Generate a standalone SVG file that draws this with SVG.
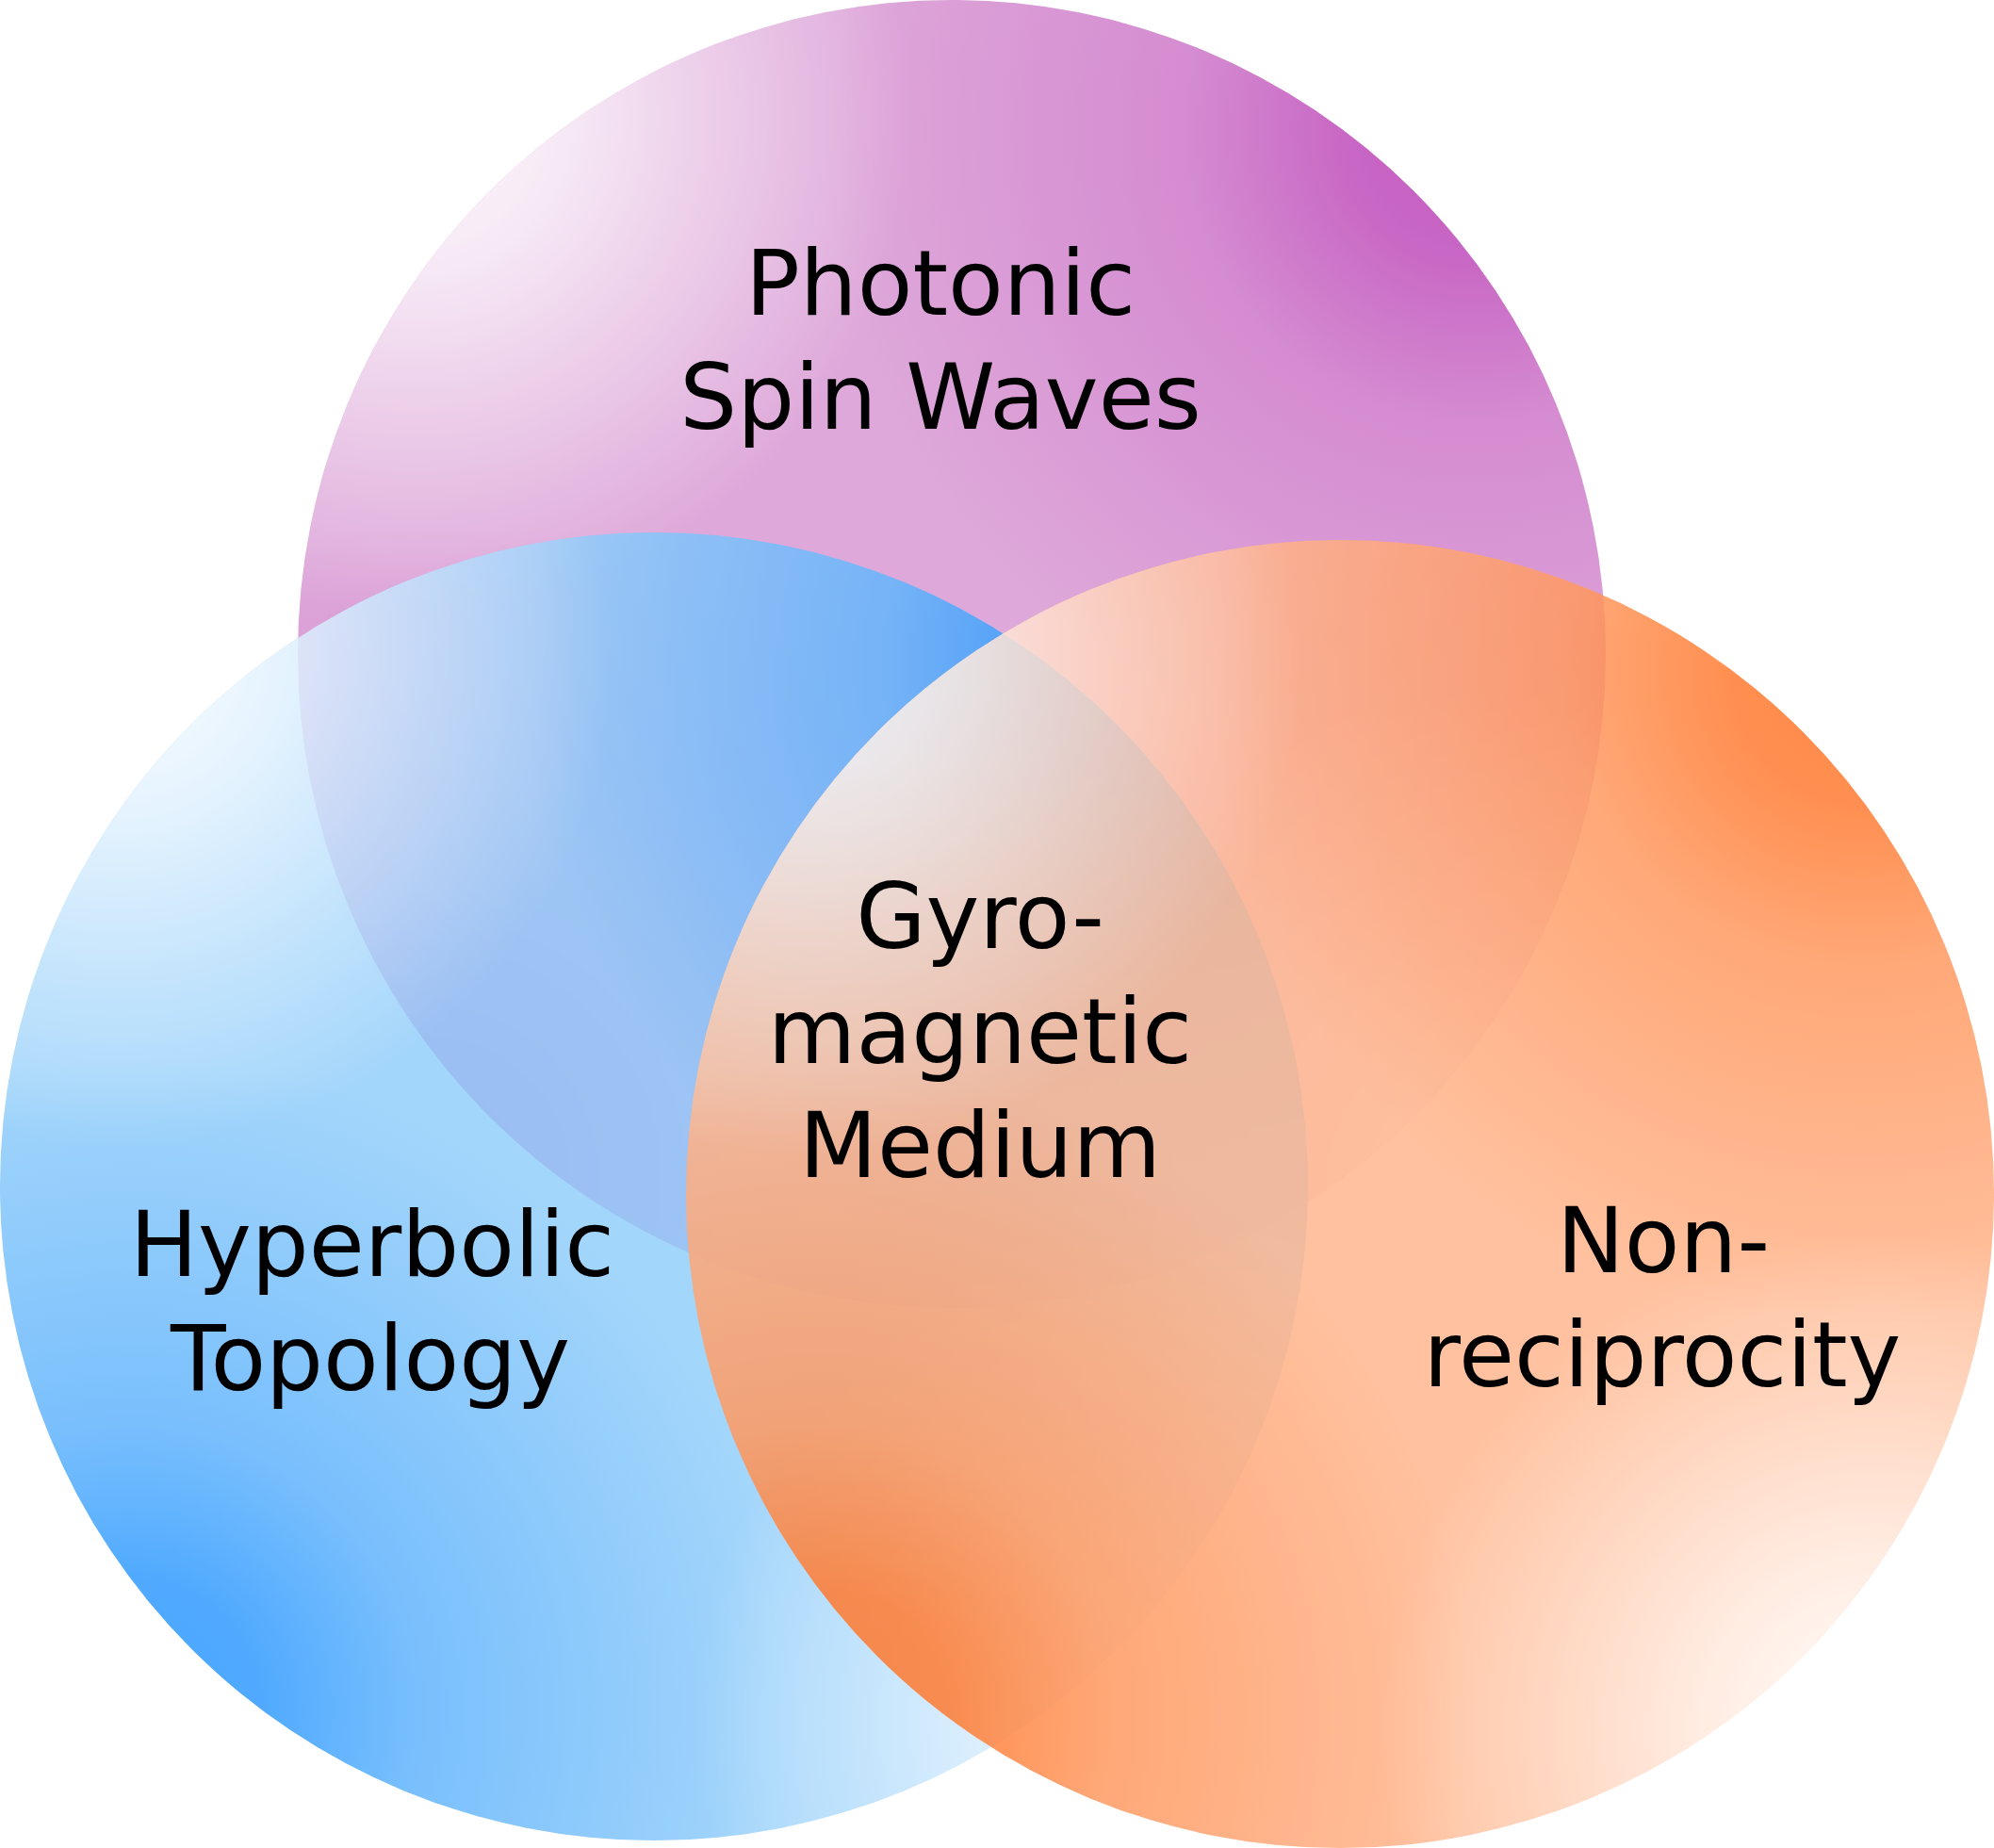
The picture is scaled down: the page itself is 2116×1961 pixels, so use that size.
<svg xmlns="http://www.w3.org/2000/svg" width="2116" height="1961" viewBox="0 0 2116 1961">
  <style>
    .lbl { font-family: "DejaVu Sans", "Liberation Sans", sans-serif; font-size: 96px; fill: #000; text-anchor: middle; }
    .set { opacity: 0.85; }
  </style>
  <defs>
    <radialGradient id="dPurpleTR" cx="0.9" cy="0.1" r="0.5">
      <stop offset="0" stop-color="#b93bb5" stop-opacity="1"/>
      <stop offset="0.2" stop-color="#b93bb5" stop-opacity="0.8"/>
      <stop offset="0.45" stop-color="#b93bb5" stop-opacity="0.35"/>
      <stop offset="1" stop-color="#b93bb5" stop-opacity="0"/>
    </radialGradient>
    <radialGradient id="dPurpleBL" href="#dPurpleTR" cx="0.1" cy="0.9"/>
    <radialGradient id="dBlueTR" cx="0.9" cy="0.1" r="0.5">
      <stop offset="0" stop-color="#2896ff" stop-opacity="1"/>
      <stop offset="0.2" stop-color="#2896ff" stop-opacity="0.9"/>
      <stop offset="0.45" stop-color="#2896ff" stop-opacity="0.45"/>
      <stop offset="1" stop-color="#2896ff" stop-opacity="0"/>
    </radialGradient>
    <radialGradient id="dBlueBL" href="#dBlueTR" cx="0.1" cy="0.9"/>
    <radialGradient id="dOrangeTR" cx="0.9" cy="0.1" r="0.5">
      <stop offset="0" stop-color="#ff7528" stop-opacity="1"/>
      <stop offset="0.2" stop-color="#ff7528" stop-opacity="0.9"/>
      <stop offset="0.45" stop-color="#ff7528" stop-opacity="0.45"/>
      <stop offset="1" stop-color="#ff7528" stop-opacity="0"/>
    </radialGradient>
    <radialGradient id="dOrangeBL" href="#dOrangeTR" cx="0.1" cy="0.9"/>
    <radialGradient id="wTL" cx="0.09" cy="0.09" r="0.38">
      <stop offset="0" stop-color="#fff" stop-opacity="1"/>
      <stop offset="0.35" stop-color="#fff" stop-opacity="0.7"/>
      <stop offset="1" stop-color="#fff" stop-opacity="0"/>
    </radialGradient>
    <radialGradient id="wBR" href="#wTL" cx="0.91" cy="0.91"/>
  </defs>
  <rect width="2116" height="1961" fill="#fff"/>
  <g id="photonic-spin-waves">
    <g class="set">
      <circle cx="1010" cy="694" r="694" fill="#d99ad4"/>
      <circle cx="1010" cy="694" r="694" fill="url(#dPurpleTR)"/>
      <circle cx="1010" cy="694" r="694" fill="url(#dPurpleBL)"/>
      <circle cx="1010" cy="694" r="694" fill="url(#wTL)"/>
      <circle cx="1010" cy="694" r="694" fill="url(#wBR)"/>
    </g>
  </g>
  <g id="hyperbolic-topology">
    <g class="set">
      <circle cx="694" cy="1259" r="694" fill="#94cffb"/>
      <circle cx="694" cy="1259" r="694" fill="url(#dBlueTR)"/>
      <circle cx="694" cy="1259" r="694" fill="url(#dBlueBL)"/>
      <circle cx="694" cy="1259" r="694" fill="url(#wTL)"/>
      <circle cx="694" cy="1259" r="694" fill="url(#wBR)"/>
    </g>
  </g>
  <g id="non-reciprocity">
    <g class="set">
      <circle cx="1422" cy="1267" r="694" fill="#ffb78f"/>
      <circle cx="1422" cy="1267" r="694" fill="url(#dOrangeTR)"/>
      <circle cx="1422" cy="1267" r="694" fill="url(#dOrangeBL)"/>
      <circle cx="1422" cy="1267" r="694" fill="url(#wTL)"/>
      <circle cx="1422" cy="1267" r="694" fill="url(#wBR)"/>
    </g>
  </g>
  <g id="connectors"/>
  <g id="labels">
    <text class="lbl" x="998" y="334">Photonic</text>
    <text class="lbl" x="998" y="455">Spin Waves</text>
    <text class="lbl" x="1040" y="1006">Gyro-</text>
    <text class="lbl" x="1040" y="1128">magnetic</text>
    <text class="lbl" x="1040" y="1249">Medium</text>
    <text class="lbl" x="395" y="1354">Hyperbolic</text>
    <text class="lbl" x="393" y="1475">Topology</text>
    <text class="lbl" x="1765" y="1350">Non-</text>
    <text class="lbl" x="1764" y="1471">reciprocity</text>
  </g>
</svg>
